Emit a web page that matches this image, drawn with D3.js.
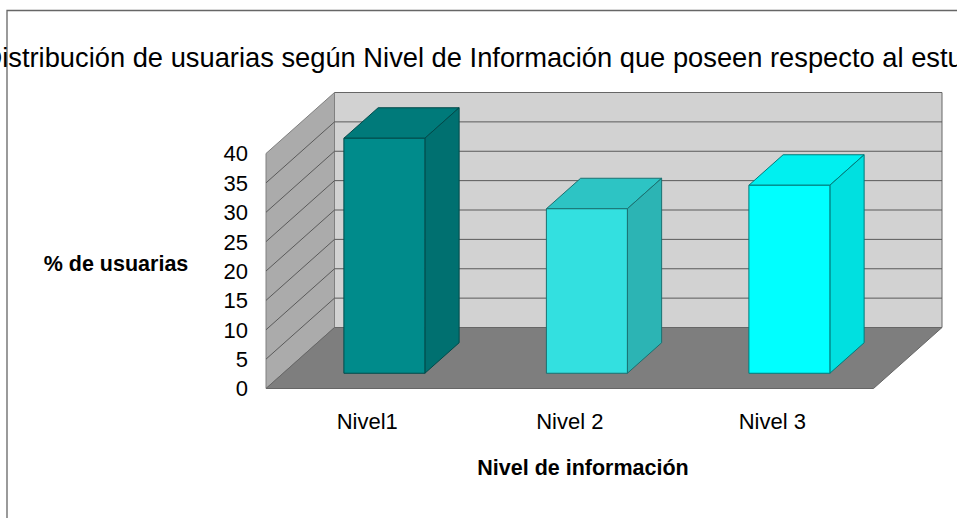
<!DOCTYPE html>
<html>
<head>
<meta charset="utf-8">
<style>
html, body { margin: 0; padding: 0; background: #fff; overflow: hidden; }
text { font-family: "Liberation Sans", sans-serif; fill: #000; }
</style>
</head>
<body>
<script src="https://d3js.org/d3.v7.min.js"></script>
<script>
var categories = ["Nivel1", "Nivel 2", "Nivel 3"];
var values = [40, 28, 32];
var yTicks = [0, 5, 10, 15, 20, 25, 30, 35, 40];
var frontColors = ["#008b8b", "#33e0e0", "#00ffff"];
var sideColors = ["#007070", "#2cb4b4", "#00e0e0"];
var topColors = ["#007a7a", "#2dc4c4", "#00f0f0"];
var edgeColors = ["#004a4a", "#1a7070", "#007a7a"];
var titleText = "Distribución de usuarias según Nivel de Información que poseen respecto al estudio";
var yTitle = "% de usuarias";
var xTitle = "Nivel de información";

var width = 957, height = 518;
var depthX = 68.5, depthY = 61;   // 3d offset, front of the box to the back wall

var svg = d3.select("body").append("svg")
  .attr("width", width)
  .attr("height", height)
  .style("display", "block");

var x = d3.scaleBand().domain(categories).range([266, 873.5]).paddingInner(0.6).paddingOuter(0.3);
var y = d3.scaleLinear().domain([0, 40]).range([388.5, 153.5]);

// chart frame, only top and left edges are visible
svg.append("path")
  .attr("d", "M7,518V10.5H957")
  .attr("fill", "none")
  .attr("stroke", "#666")
  .attr("stroke-width", 1.3);

// box: back wall, left wall, floor
var x0 = x.range()[0], x1 = x.range()[1];
var yBottom = y(0), yTop = y(40);

svg.append("path")
  .attr("d", "M" + (x0 + depthX) + "," + (yTop - depthY) + "H" + (x1 + depthX) + "V" + (yBottom - depthY) + "H" + (x0 + depthX) + "Z")
  .attr("fill", "#d2d2d2")
  .attr("stroke", "#666");

svg.append("path")
  .attr("d", "M" + x0 + "," + yTop + "L" + (x0 + depthX) + "," + (yTop - depthY) + "V" + (yBottom - depthY) + "L" + x0 + "," + yBottom + "Z")
  .attr("fill", "#ababab")
  .attr("stroke", "#808080");

svg.append("path")
  .attr("d", "M" + x0 + "," + yBottom + "L" + (x0 + depthX) + "," + (yBottom - depthY) + "H" + (x1 + depthX) + "L" + x1 + "," + yBottom + "Z")
  .attr("fill", "#7e7e7e")
  .attr("stroke", "#666");

// gridlines on both walls
var grid = svg.append("g").attr("fill", "none").attr("stroke", "#5a5a5a").attr("stroke-width", 1);
yTicks.slice(1, -1).forEach(function(t) {
  grid.append("path")
    .attr("d", "M" + x0 + "," + y(t) + "L" + (x0 + depthX) + "," + (y(t) - depthY) + "H" + (x1 + depthX));
});

// y axis labels
svg.append("g").selectAll("text")
  .data(yTicks)
  .enter().append("text")
  .attr("x", 248)
  .attr("y", function(d) { return y(d); })
  .attr("dy", "0.36em")
  .attr("text-anchor", "end")
  .style("font-size", "22px")
  .text(function(d) { return d; });

// x axis labels
svg.append("g").selectAll("text")
  .data(categories)
  .enter().append("text")
  .attr("x", function(d) { return x(d) + x.bandwidth() / 2; })
  .attr("y", 429)
  .attr("text-anchor", "middle")
  .style("font-size", "22px")
  .text(function(d) { return d; });

// bars sit from 1/4 to 3/4 of the box depth
var bars = svg.append("g").selectAll("g")
  .data(values)
  .enter().append("g")
  .attr("stroke-linejoin", "round");

var offX = depthX / 4, offY = depthY / 4, bdx = depthX / 2, bdy = depthY / 2;

bars.append("path")
  .attr("d", function(d, i) {
    var l = x(categories[i]) + offX, r = l + x.bandwidth(), t = y(d) - offY;
    return "M" + l + "," + t + "L" + (l + bdx) + "," + (t - bdy) + "H" + (r + bdx) + "L" + r + "," + t + "Z";
  })
  .attr("fill", function(d, i) { return topColors[i]; })
  .attr("stroke", function(d, i) { return edgeColors[i]; });

bars.append("path")
  .attr("d", function(d, i) {
    var r = x(categories[i]) + offX + x.bandwidth(), t = y(d) - offY, b = y(0) - offY;
    return "M" + r + "," + t + "L" + (r + bdx) + "," + (t - bdy) + "V" + (b - bdy) + "L" + r + "," + b + "Z";
  })
  .attr("fill", function(d, i) { return sideColors[i]; })
  .attr("stroke", function(d, i) { return edgeColors[i]; });

bars.append("path")
  .attr("d", function(d, i) {
    var l = x(categories[i]) + offX, r = l + x.bandwidth(), t = y(d) - offY, b = y(0) - offY;
    return "M" + l + "," + t + "H" + r + "V" + b + "H" + l + "Z";
  })
  .attr("fill", function(d, i) { return frontColors[i]; })
  .attr("stroke", function(d, i) { return edgeColors[i]; });

// titles
svg.append("text")
  .attr("x", -17.5)
  .attr("y", 67)
  .style("font-size", "27.3px")
  .text(titleText);

svg.append("text")
  .attr("x", 116)
  .attr("y", 271)
  .attr("text-anchor", "middle")
  .style("font-size", "21.5px")
  .style("font-weight", "bold")
  .text(yTitle);

svg.append("text")
  .attr("x", 583)
  .attr("y", 475)
  .attr("text-anchor", "middle")
  .style("font-size", "21.5px")
  .style("font-weight", "bold")
  .text(xTitle);
</script>
</body>
</html>
